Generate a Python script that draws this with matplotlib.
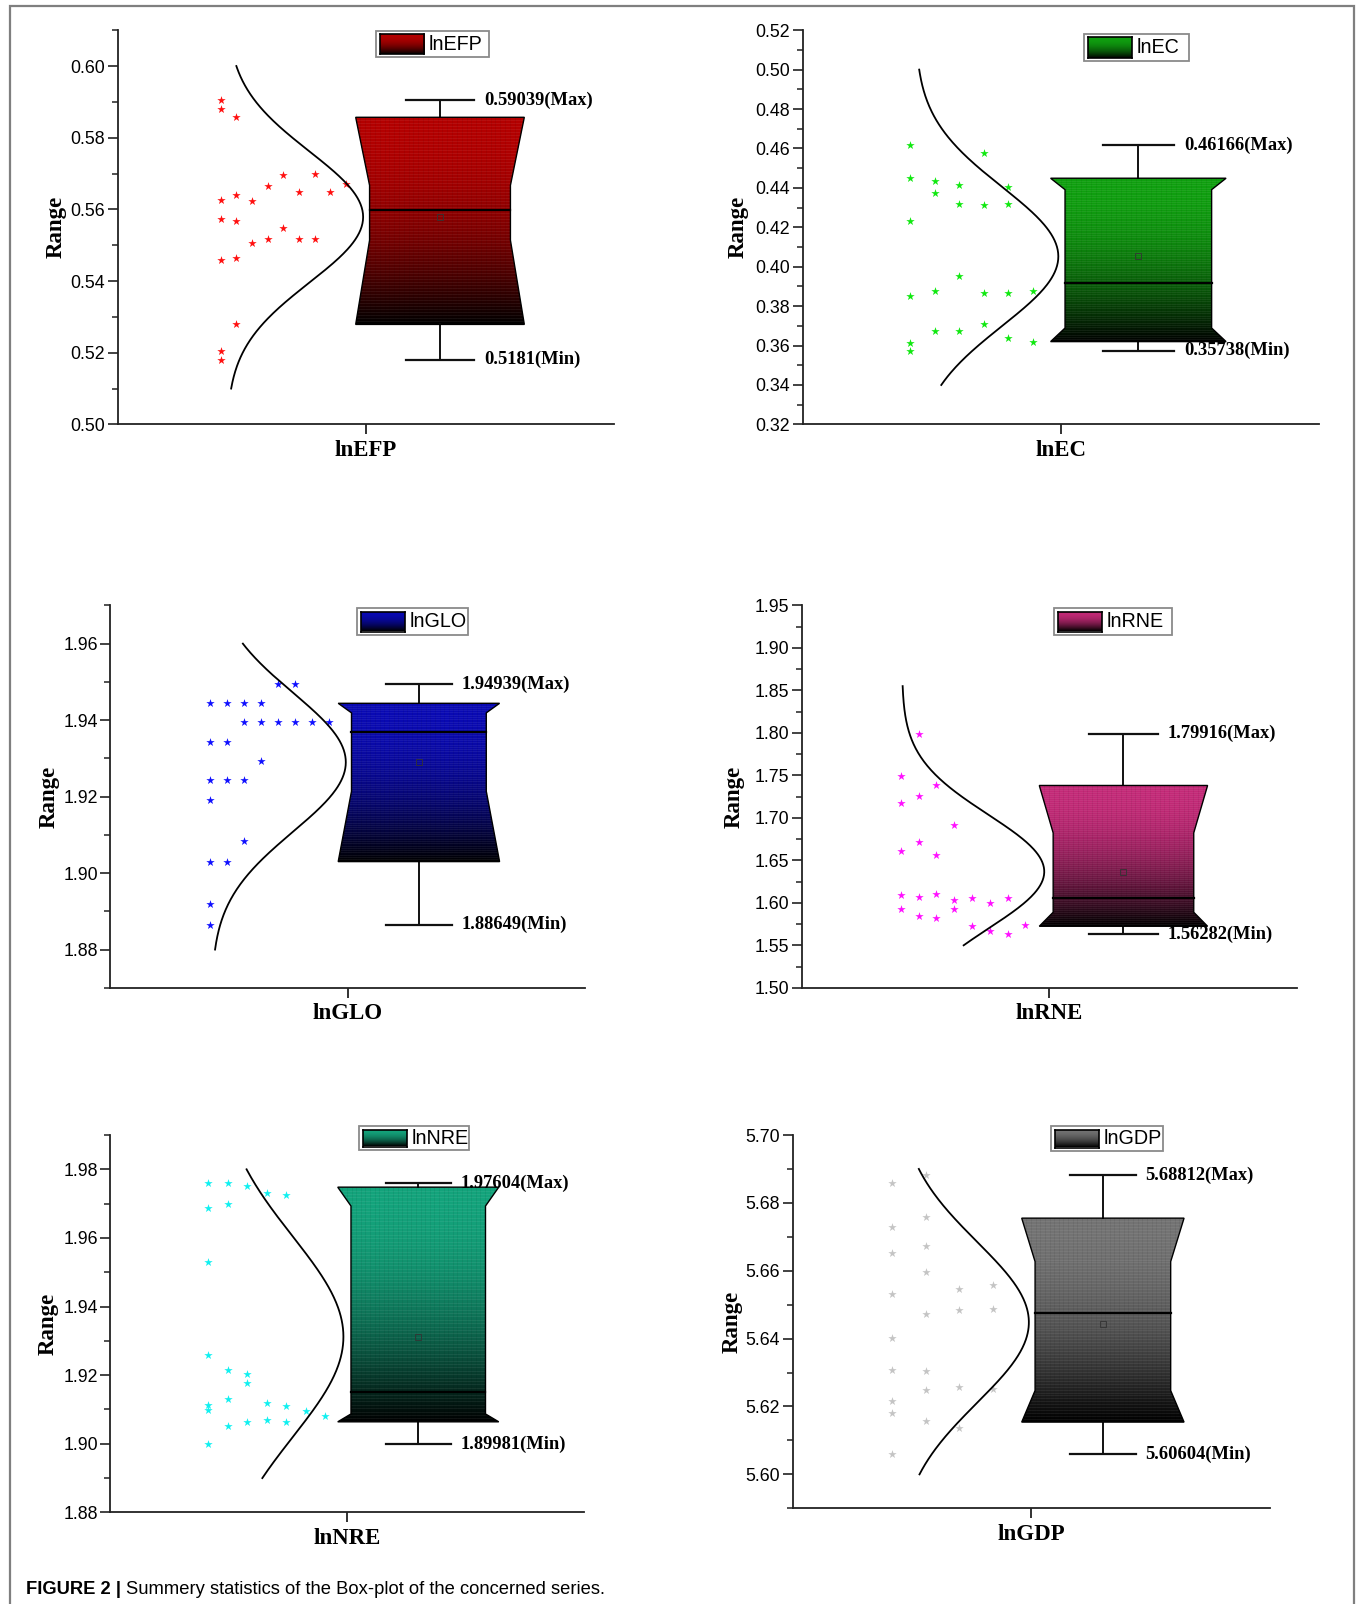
import numpy as np
import matplotlib.pyplot as plt
from matplotlib.patches import Polygon, Rectangle
from matplotlib.colors import to_rgb

# ---- data ----
names = ['lnEFP', 'lnEC', 'lnGLO', 'lnRNE', 'lnNRE', 'lnGDP']

efp_vals = [0.59039, 0.5880, 0.5626, 0.5573, 0.5459, 0.5205, 0.5181,
            0.5857, 0.5640, 0.5568, 0.5463, 0.5279,
            0.5623, 0.5507, 0.5665, 0.5516, 0.5697, 0.5549,
            0.5648, 0.5516, 0.5700, 0.5516, 0.5648, 0.5672]
efp_cols = [0]*7 + [1]*5 + [2]*2 + [3]*2 + [4]*2 + [5]*2 + [6]*2 + [7] + [8]

ec_vals = [0.46166, 0.4450, 0.4230, 0.3849, 0.3613, 0.35738,
           0.4437, 0.4376, 0.3879, 0.3673,
           0.4415, 0.4317, 0.3955, 0.3672,
           0.4575, 0.4314, 0.3869, 0.3707,
           0.4405, 0.4317, 0.3869, 0.3638,
           0.3879, 0.3620]
ec_cols = [0]*6 + [1]*4 + [2]*4 + [3]*4 + [4]*4 + [5]*2

glo_vals = [1.9444, 1.9344, 1.9243, 1.9190, 1.9030, 1.8920, 1.88649,
            1.9444, 1.9344, 1.9243, 1.9030,
            1.9444, 1.9394, 1.9243, 1.9084,
            1.9444, 1.9394, 1.9294,
            1.94939, 1.9394,
            1.9494, 1.9394,
            1.9394,
            1.9394]
glo_cols = [0]*7 + [1]*4 + [2]*4 + [3]*3 + [4]*2 + [5]*2 + [6] + [7]

rne_vals = [1.7498, 1.7169, 1.6611, 1.6097, 1.5929,
            1.79916, 1.7255, 1.6713, 1.6070, 1.5842,
            1.7381, 1.6560, 1.6105, 1.5827,
            1.6914, 1.6034, 1.5929,
            1.6054, 1.5724,
            1.6003, 1.5673,
            1.6058, 1.56282,
            1.5740]
rne_cols = [0]*5 + [1]*5 + [2]*4 + [3]*3 + [4]*2 + [5]*2 + [6]*2 + [7]

nre_vals = [1.97604, 1.9686, 1.9531, 1.9259, 1.9112, 1.9098, 1.89981,
            1.9760, 1.9698, 1.9215, 1.9130, 1.9051,
            1.9750, 1.9203, 1.9176, 1.9064,
            1.9732, 1.9118, 1.9068,
            1.9725, 1.9110, 1.9064,
            1.9097,
            1.9081]
nre_cols = [0]*7 + [1]*5 + [2]*4 + [3]*3 + [4]*3 + [5] + [6]

gdp_vals = [5.6859, 5.6730, 5.6651, 5.6531, 5.6402, 5.6308, 5.6217, 5.6182, 5.60604,
            5.68812, 5.6758, 5.6672, 5.6597, 5.6473, 5.6306, 5.6250, 5.6156,
            5.6547, 5.6484, 5.6256, 5.6138,
            5.6558, 5.6486, 5.6251]
gdp_cols = [0]*9 + [1]*8 + [2]*4 + [3]*3

all_vals = [efp_vals, ec_vals, glo_vals, rne_vals, nre_vals, gdp_vals]
all_cols = [efp_cols, ec_cols, glo_cols, rne_cols, nre_cols, gdp_cols]

# box statistics
q1 = [0.5279, 0.3620, 1.9030, 1.5724, 1.9064, 5.6154]
q3 = [0.5857, 0.4449, 1.9444, 1.7381, 1.9748, 5.6755]
med = [0.5597, 0.3916, 1.9369, 1.6062, 1.9152, 5.6475]
notch_lo = [0.5514, 0.3689, 1.9214, 1.5889, 1.9087, 5.6247]
notch_hi = [0.5667, 0.4391, 1.9419, 1.6823, 1.9693, 5.6627]
means = [0.5578, 0.4053, 1.9291, 1.6368, 1.9312, 5.6444]
vmin = [0.5181, 0.35738, 1.88649, 1.56282, 1.89981, 5.60604]
vmax = [0.59039, 0.46166, 1.94939, 1.79916, 1.97604, 5.68812]

# range of the fitted normal curve
curve_lo = [0.51, 0.34, 1.88, 1.55, 1.89, 5.60]
curve_hi = [0.60, 0.50, 1.96, 1.855, 1.98, 5.69]

# y axis
ylims = [(0.50, 0.61), (0.32, 0.52), (1.87, 1.97), (1.50, 1.95), (1.88, 1.99), (5.59, 5.70)]
ytick_start = [0.50, 0.32, 1.88, 1.50, 1.88, 5.60]
ytick_end = [0.60, 0.52, 1.96, 1.95, 1.98, 5.70]
ytick_step = [0.02, 0.02, 0.02, 0.05, 0.02, 0.02]

# ---- styles / layout ----
star_colors = ['#ff1010', '#10e810', '#1010ff', '#ff10ff', '#10f0f0', '#c4c4c4']
box_colors = ['#b40000', '#10a010', '#0a0ab4', '#c42a78', '#14a47c', '#747474']

W, H = 1357, 1604
axes_px = [(117.6, 30.2, 613.6, 424.4), (802.8, 30.2, 1319, 424.4),
           (110.4, 605.4, 585, 987.8), (801.7, 605.4, 1296.7, 987.8),
           (110.4, 1135, 584, 1512.4), (792.5, 1135, 1270, 1508.3)]
legend_px = [(376, 30.7, 489, 57.3), (1084, 33.7, 1189, 61.4),
             (357, 608, 468, 635), (1054, 608, 1172, 635),
             (359, 1126, 469, 1150), (1051, 1126, 1163, 1151)]
ylabel_x = [-0.124, -0.126, -0.128, -0.137, -0.132, -0.127]
star_x0 = [0.708, 0.708, 0.709, 0.700, 0.707, 0.708]
star_dx = [0.0316, 0.0475, 0.0358, 0.036, 0.041, 0.0707]
curve_base = [0.72, 0.718, 0.713, 0.7025, 0.72, 0.72]
curve_peak = [0.995, 0.995, 0.996, 0.99, 0.992, 0.995]

box_c, box_w, box_n, cap_w = 1.15, 0.17, 0.142, 0.069

SERIF = 'Liberation Serif'
SANS = 'Liberation Sans'
plt.rcParams['font.family'] = SANS


def grad_img(color, ny=256):
    t = np.linspace(0, 1, ny)[:, None]
    f = 1 - t ** 2
    rgb = np.array(to_rgb(color))
    img = f[..., None] * rgb
    return np.repeat(img, 2, axis=1)


fig = plt.figure(figsize=(W / 100, H / 100), dpi=100)

for i in range(6):
    l, t, r, b = axes_px[i]
    ax = fig.add_axes([l / W, 1 - b / H, (r - l) / W, (b - t) / H])
    vals = np.array(all_vals[i])
    cols = np.array(all_cols[i])

    # stars
    ax.scatter(star_x0[i] + cols * star_dx[i], vals, marker='*', s=40,
               color=star_colors[i], linewidths=0, zorder=3)

    # normal curve
    mu, sd = vals.mean(), vals.std(ddof=1)
    yy = np.linspace(curve_lo[i], curve_hi[i], 300)
    pdf = np.exp(-(yy - mu) ** 2 / (2 * sd ** 2))
    ax.plot(curve_base[i] + (curve_peak[i] - curve_base[i]) * pdf, yy,
            color='black', lw=1.3, zorder=3)

    # notched box with gradient fill
    c = box_c
    verts = [(c - box_w, q3[i]), (c + box_w, q3[i]), (c + box_n, notch_hi[i]),
             (c + box_n, notch_lo[i]), (c + box_w, q1[i]), (c - box_w, q1[i]),
             (c - box_n, notch_lo[i]), (c - box_n, notch_hi[i])]
    poly = Polygon(verts, closed=True, facecolor='none', edgecolor='black',
                   lw=1.0, zorder=4)
    ax.add_patch(poly)
    im = ax.imshow(grad_img(box_colors[i]), extent=(c - box_w, c + box_w, q1[i], q3[i]),
                   aspect='auto', origin='upper', interpolation='bilinear', zorder=2)
    im.set_clip_path(poly)
    # faint texture
    hl = ax.hlines(np.linspace(q1[i], q3[i], 70), c - box_w, c + box_w,
                   colors='white', lw=0.5, alpha=0.09, zorder=2.5)
    hl.set_clip_path(poly)
    vl = ax.vlines(np.linspace(c - box_w, c + box_w, 36), q1[i], q3[i],
                   colors='black', lw=0.5, alpha=0.08, zorder=2.5)
    vl.set_clip_path(poly)

    # median across the box
    ax.plot([c - box_n, c + box_n], [med[i], med[i]], color='black', lw=1.6, zorder=5)
    # mean marker
    ax.plot(c, means[i], marker='s', ms=4, mfc='none', mec='#333333', mew=0.6, zorder=5)

    # whiskers
    ax.plot([c, c], [q3[i], vmax[i]], color='#111111', lw=1.4, zorder=3)
    ax.plot([c, c], [q1[i], vmin[i]], color='#111111', lw=1.4, zorder=3)
    ax.plot([c - cap_w, c + cap_w], [vmax[i], vmax[i]], color='#111111', lw=1.6, zorder=3)
    ax.plot([c - cap_w, c + cap_w], [vmin[i], vmin[i]], color='#111111', lw=1.6, zorder=3)
    ax.text(c + cap_w + 0.02, vmax[i], f'{vmax[i]:g}(Max)', va='center', ha='left',
            fontsize=13.3, fontweight='bold', family=SERIF, zorder=6)
    ax.text(c + cap_w + 0.02, vmin[i], f'{vmin[i]:g}(Min)', va='center', ha='left',
            fontsize=13.3, fontweight='bold', family=SERIF, zorder=6)

    # axes styling
    ax.set_xlim(0.5, 1.5)
    ax.set_ylim(*ylims[i])
    major = np.round(np.arange(ytick_start[i], ytick_end[i] + 1e-9, ytick_step[i]), 3)
    minor = np.round(np.arange(ylims[i][0], ylims[i][1] + 1e-9, ytick_step[i] / 2), 4)
    ax.set_yticks(major)
    ax.set_yticklabels([f'{v:.2f}' for v in major])
    ax.set_yticks([m for m in minor if not np.any(np.isclose(m, major))], minor=True)
    ax.set_xticks([1.0])
    ax.set_xticklabels([names[i]], fontfamily=SERIF, fontweight='bold', fontsize=16.5)
    for s in ['top', 'right']:
        ax.spines[s].set_visible(False)
    for s in ['left', 'bottom']:
        ax.spines[s].set_linewidth(1.3)
        ax.spines[s].set_color('#222222')
    ax.tick_params(axis='y', which='major', direction='out', length=7, width=1.2,
                   labelsize=12.8, pad=2, color='#222222')
    ax.tick_params(axis='y', which='minor', direction='out', length=4, width=1.1,
                   color='#222222')
    ax.tick_params(axis='x', direction='out', length=7, width=1.3, pad=4, color='#222222')
    ax.set_ylabel('Range', fontfamily=SERIF, fontweight='bold', fontsize=16.5, va='center')
    ax.yaxis.set_label_coords(ylabel_x[i], 0.5)

    # legend drawn by hand
    ll, lt, lr, lb = legend_px[i]
    fig.add_artist(Rectangle((ll / W, 1 - lb / H), (lr - ll) / W, (lb - lt) / H,
                             transform=fig.transFigure, facecolor='white',
                             edgecolor='#8a8a8a', lw=1.3, zorder=10))
    pax = fig.add_axes([(ll + 4) / W, 1 - (lb - 3.5) / H, 44 / W, (lb - lt - 7) / H], zorder=11)
    pax.imshow(grad_img(box_colors[i]), aspect='auto', extent=(0, 1, 0, 1))
    pax.set_xticks([])
    pax.set_yticks([])
    for s in pax.spines.values():
        s.set_linewidth(1.2)
    fig.text((ll + 53) / W, 1 - (lt + lb) / 2 / H, names[i], fontsize=14.2, family=SANS,
             va='center', ha='left', zorder=12)

# caption
fig.canvas.draw()
cap_y = 1 - 1589 / H
t1 = fig.text(25.6 / W, cap_y, 'FIGURE 2 | ', fontsize=13.2, fontweight='bold',
              family=SANS, va='center', ha='left')
bb = t1.get_window_extent(renderer=fig.canvas.get_renderer())
fig.text(bb.x1 / W, cap_y, 'Summery statistics of the Box-plot of the concerned series.',
         fontsize=13.2, family=SANS, va='center', ha='left')

# outer frame
fig.add_artist(Rectangle((10 / W, -0.02), 1344 / W, 1 - 6 / H + 0.02,
                         transform=fig.transFigure, fill=False, edgecolor='#7f7f7f', lw=1.6))

fig.savefig('out.png', dpi=100)
